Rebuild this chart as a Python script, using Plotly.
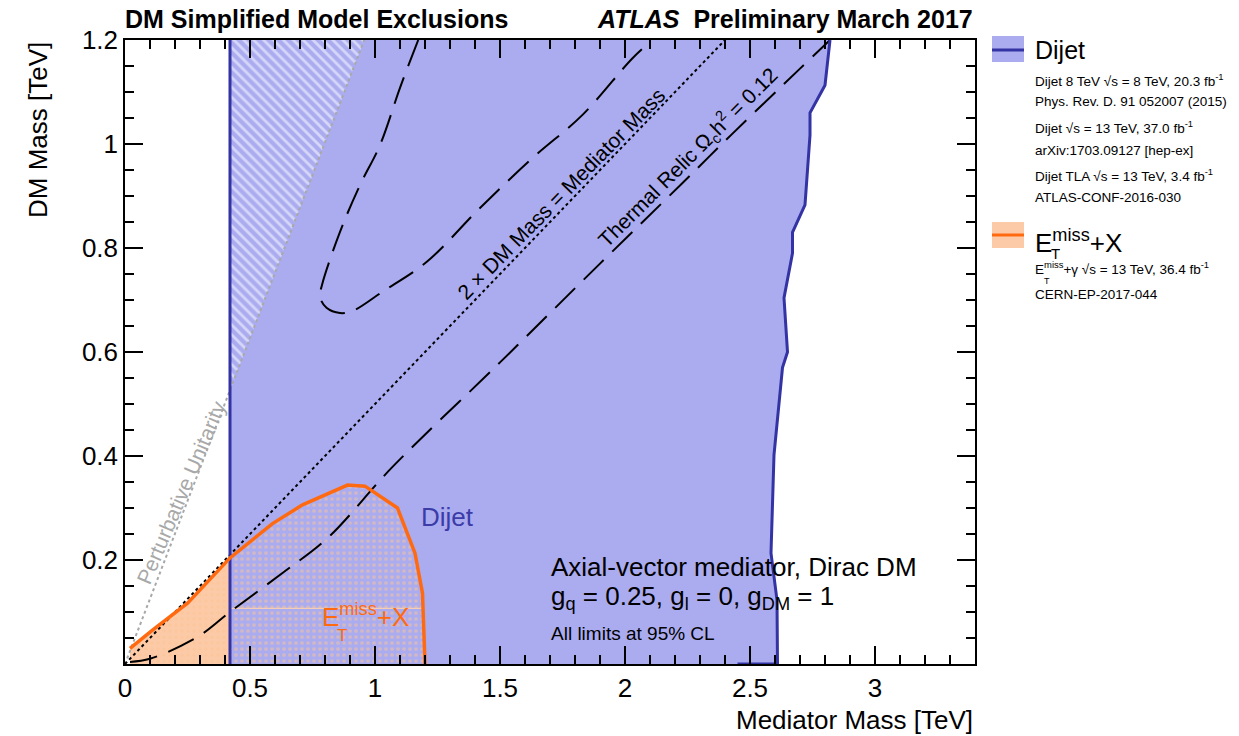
import plotly.graph_objects as go

# ---------------- data ----------------
dijet_left_x = 0.42
dijet_right_x = [2.82, 2.80, 2.74, 2.74, 2.72, 2.67, 2.67, 2.636, 2.65, 2.63, 2.596, 2.584, 2.608, 2.61, 2.45]
dijet_right_y = [1.2, 1.113, 1.06, 1.017, 0.883, 0.83, 0.79, 0.704, 0.6, 0.57, 0.402, 0.213, 0.123, 0.0, 0.0]

met_x = [0.02, 0.11, 0.25, 0.42, 0.59, 0.71, 0.89, 0.96, 1.09, 1.16, 1.19, 1.2]
met_y = [0.03, 0.065, 0.117, 0.204, 0.27, 0.306, 0.344, 0.342, 0.30, 0.213, 0.136, 0.0]
met_artifact_x = [0.42, 1.19]
met_artifact_y = [0.107, 0.107]

relic1_x = [1.173, 1.10, 1.02, 0.94, 0.86, 0.788, 0.78, 0.806, 0.86, 0.91, 1.03, 1.206, 1.42, 1.63, 1.83, 2.03, 2.10]
relic1_y = [1.2, 1.108, 0.998, 0.921, 0.831, 0.729, 0.706, 0.685, 0.675, 0.679, 0.716, 0.773, 0.877, 0.973, 1.056, 1.165, 1.196]
relic2_x = [0.02, 0.1, 0.29, 0.42, 0.63, 0.81, 1.07, 1.5, 1.9, 2.23, 2.43, 2.7, 2.82]
relic2_y = [0.004, 0.01, 0.052, 0.1, 0.175, 0.242, 0.379, 0.58, 0.77, 0.925, 1.02, 1.145, 1.2]

unit_x = [0.0, 0.957]
unit_y = [0.0, 1.2]
diag_x = [0.0, 2.4]
diag_y = [0.0, 1.2]
hatch_x = [0.42, 0.957, 0.42]
hatch_y = [0.526, 1.2, 1.2]

x_ticks = [0, 0.5, 1, 1.5, 2, 2.5, 3]
x_ticklabels = ["0", "0.5", "1", "1.5", "2", "2.5", "3"]
y_ticks = [0.2, 0.4, 0.6, 0.8, 1.0, 1.2]
y_ticklabels = ["0.2", "0.4", "0.6", "0.8", "1", "1.2"]

# ---------------- style ----------------
FONT = "Liberation Sans, Arial, sans-serif"
BLUE_FILL = "#abacf0"
BLUE_LINE = "#3333a3"
ORANGE_LINE = "#ff6a10"
ORANGE_FILL = "#fdcaa8"
ORANGE_DOT = "#f8c394"

W, H = 1239, 736
L, R, T, B = 125, 975, 40, 664  # plot frame in pixels


def px(p):
    return (p - L) / (R - L)


def py(p):
    return (B - p) / (B - T)


fig = go.Figure()

fig.add_trace(go.Scatter(x=met_x + [met_x[0]], y=met_y + [0.0], fill="toself",
                         fillcolor=ORANGE_FILL, line=dict(width=0), mode="lines",
                         hoverinfo="skip", showlegend=False))
fig.add_trace(go.Scatter(x=[dijet_left_x, dijet_left_x] + dijet_right_x,
                         y=[0.0, 1.2] + dijet_right_y, fill="toself",
                         fillcolor=BLUE_FILL, line=dict(width=0), mode="lines",
                         hoverinfo="skip", showlegend=False))
fig.add_trace(go.Scatter(x=hatch_x, y=hatch_y, fill="toself", mode="lines",
                         fillcolor=BLUE_FILL, line=dict(width=0),
                         fillpattern=dict(shape="\\", fgcolor="white", bgcolor=BLUE_FILL,
                                          size=7, solidity=0.4),
                         hoverinfo="skip", showlegend=False))
fig.add_trace(go.Scatter(x=met_x + [met_x[0]], y=met_y + [0.0], fill="toself", mode="lines",
                         fillcolor="rgba(0,0,0,0)", line=dict(width=0),
                         fillpattern=dict(shape=".", fgcolor=ORANGE_DOT, bgcolor="rgba(0,0,0,0)",
                                          size=6, solidity=0.3),
                         hoverinfo="skip", showlegend=False))
fig.add_trace(go.Scatter(x=met_artifact_x, y=met_artifact_y, mode="lines",
                         line=dict(color="#f3cdb4", width=1.2), hoverinfo="skip", showlegend=False))

fig.add_trace(go.Scatter(x=unit_x, y=unit_y, mode="lines",
                         line=dict(color="#a8a8a8", width=2, dash="dot"), showlegend=False))
fig.add_trace(go.Scatter(x=diag_x, y=diag_y, mode="lines",
                         line=dict(color="black", width=2, dash="dot"), showlegend=False))
fig.add_trace(go.Scatter(x=relic1_x, y=relic1_y, mode="lines", line_shape="spline",
                         line=dict(color="black", width=2, dash="28px,12px"), showlegend=False))
fig.add_trace(go.Scatter(x=relic2_x, y=relic2_y, mode="lines", line_shape="spline",
                         line=dict(color="black", width=2, dash="28px,12px"), showlegend=False))

fig.add_trace(go.Scatter(x=[dijet_left_x, dijet_left_x], y=[0.0, 1.2], mode="lines",
                         line=dict(color=BLUE_LINE, width=3), showlegend=False))
fig.add_trace(go.Scatter(x=dijet_right_x, y=dijet_right_y, mode="lines",
                         line=dict(color=BLUE_LINE, width=3), showlegend=False))
fig.add_trace(go.Scatter(x=met_x, y=met_y, mode="lines",
                         line=dict(color=ORANGE_LINE, width=3.5), showlegend=False))

ann = []


def add(text, x, y, size, color="black", xanchor="left", yanchor="middle", angle=0,
        xref="x", yref="y"):
    ann.append(dict(text=text, x=x, y=y, xref=xref, yref=yref, showarrow=False,
                    font=dict(family=FONT, size=size, color=color), xanchor=xanchor,
                    yanchor=yanchor, textangle=angle))


# titles
add("<b>DM Simplified Model Exclusions</b>", px(123), py(19), 25, xref="paper", yref="paper")
add("<b><i>ATLAS</i>  Preliminary March 2017</b>", px(975), py(19), 25, xanchor="right",
    xref="paper", yref="paper")
add("Mediator Mass [TeV]", 1.0, py(720), 26, xanchor="right", xref="paper", yref="paper")
add("DM Mass [TeV]", px(38), 1.0, 26, xanchor="center", yanchor="top", angle=-90,
    xref="paper", yref="paper")

# in-plot text
add("Dijet", 1.29, 0.283, 26, color="#3c3ca8", xanchor="center")
add("E<sup>miss</sup>+X", 0.78, 0.094, 26, color=ORANGE_LINE)
add("T", 0.84, 0.054, 17, color=ORANGE_LINE)
add("Axial-vector mediator, Dirac DM", 1.695, 0.187, 26)
add("g<sub>q</sub> = 0.25, g<sub>l</sub> = 0, g<sub>DM</sub> = 1", 1.695, 0.128, 26)
add("All limits at 95% CL", 1.695, 0.058, 19)
add("2 × DM Mass = Mediator Mass", 1.745, 0.905, 21, xanchor="center", angle=-45.6)
add("Thermal Relic Ω<sub>c</sub>h<sup>2</sup> = 0.12", 2.25, 0.975, 21, xanchor="center", angle=-45)
add("Perturbative Unitarity", 0.225, 0.33, 21, color="#a8a8a8", xanchor="center", angle=-67)

# legend
lx = px(1033)
add("Dijet", lx, py(50), 25, xref="paper", yref="paper")
add("Dijet 8 TeV √s = 8 TeV, 20.3 fb<sup>-1</sup>", lx, py(80), 13.5, xref="paper", yref="paper")
add("Phys. Rev. D. 91 052007 (2015)", lx, py(102), 13.5, xref="paper", yref="paper")
add("Dijet √s = 13 TeV, 37.0 fb<sup>-1</sup>", lx, py(127), 13.5, xref="paper", yref="paper")
add("arXiv:1703.09127 [hep-ex]", lx, py(150), 13.5, xref="paper", yref="paper")
add("Dijet TLA √s = 13 TeV, 3.4 fb<sup>-1</sup>", lx, py(175), 13.5, xref="paper", yref="paper")
add("ATLAS-CONF-2016-030", lx, py(197), 13.5, xref="paper", yref="paper")
add("E<sup>miss</sup>+X", lx, py(242), 26, xref="paper", yref="paper")
add("T", px(1049), py(253), 15, xref="paper", yref="paper")
add("E<sup>miss</sup>+γ √s = 13 TeV, 36.4 fb<sup>-1</sup>", lx, py(268), 13.5, xref="paper", yref="paper")
add("T", px(1042), py(281), 9, xref="paper", yref="paper")
add("CERN-EP-2017-044", lx, py(294), 13.5, xref="paper", yref="paper")

shapes = [
    dict(type="rect", xref="paper", yref="paper", x0=px(992), x1=px(1024), y0=py(62), y1=py(36),
         fillcolor=BLUE_FILL, line=dict(width=0)),
    dict(type="line", xref="paper", yref="paper", x0=px(992), x1=px(1024), y0=py(50), y1=py(50),
         line=dict(color=BLUE_LINE, width=3)),
    dict(type="rect", xref="paper", yref="paper", x0=px(992), x1=px(1024), y0=py(248), y1=py(222),
         fillcolor=ORANGE_FILL, line=dict(width=0)),
    dict(type="line", xref="paper", yref="paper", x0=px(992), x1=px(1024), y0=py(235), y1=py(235),
         line=dict(color=ORANGE_LINE, width=3)),
]

axis_common = dict(showgrid=False, zeroline=False, showline=True, linecolor="black",
                   linewidth=1.5, mirror="ticks", ticks="inside", ticklen=18, tickwidth=1.5,
                   tickcolor="black", tickfont=dict(family=FONT, size=26, color="black"))

fig.update_layout(
    width=W, height=H, plot_bgcolor="white", paper_bgcolor="white",
    margin=dict(l=L, r=W - R, t=T, b=H - B, pad=0),
    xaxis=dict(range=[0, 3.4], tickvals=x_ticks, ticktext=x_ticklabels,
               minor=dict(ticks="inside", dtick=0.1, ticklen=9, tickwidth=1.5, tickcolor="black"),
               **axis_common),
    yaxis=dict(range=[0, 1.2], tickvals=y_ticks, ticktext=y_ticklabels,
               minor=dict(ticks="inside", dtick=0.05, ticklen=9, tickwidth=1.5, tickcolor="black"),
               **axis_common),
    annotations=ann, shapes=shapes, showlegend=False,
)

fig.write_html("out.html", config={"displayModeBar": False},
               post_script="document.body.style.margin='0';")
